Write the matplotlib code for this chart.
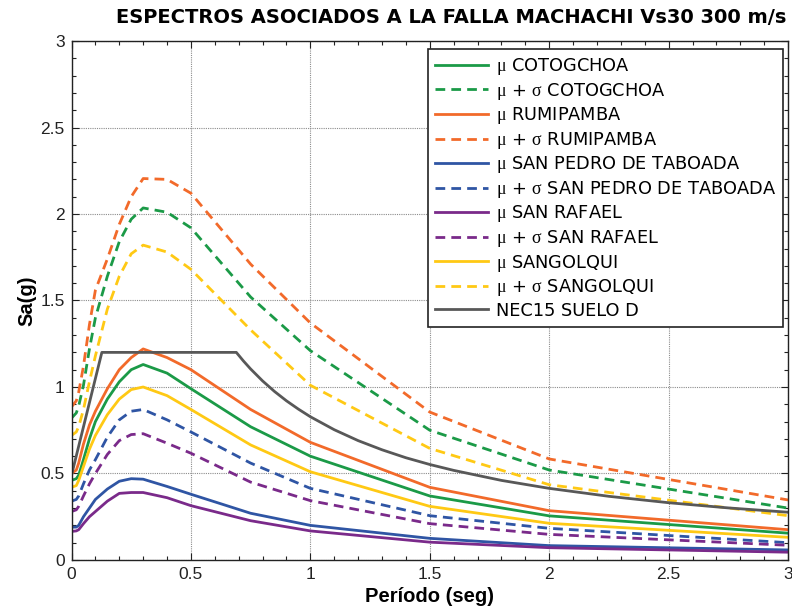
import matplotlib
matplotlib.use("Agg")
import matplotlib.pyplot as plt
from matplotlib.ticker import MultipleLocator

plt.rcParams['font.family'] = ['Liberation Sans', 'DejaVu Sans']
plt.rcParams['mathtext.fontset'] = 'custom'
plt.rcParams['mathtext.rm'] = 'Liberation Serif'
plt.rcParams['mathtext.it'] = 'Liberation Serif:italic'

# Spectral periods (s)
periods = [0, 0.02, 0.03, 0.05, 0.075, 0.1, 0.15, 0.2, 0.25, 0.3, 0.4, 0.5,
           0.75, 1.0, 1.5, 2.0, 3.0]

# Mean (mu) and mean + sigma spectra, Sa in g
cotogchoa_mu = [0.46, 0.47, 0.49, 0.58, 0.70, 0.80, 0.93, 1.03, 1.10, 1.13, 1.08,
                0.99, 0.77, 0.60, 0.37, 0.255, 0.155]
cotogchoa_ms = [0.82, 0.85, 0.89, 1.01, 1.22, 1.40, 1.64, 1.84, 1.97, 2.035, 2.01,
                1.92, 1.52, 1.21, 0.75, 0.52, 0.30]
rumipamba_mu = [0.50, 0.52, 0.56, 0.67, 0.78, 0.86, 0.99, 1.10, 1.17, 1.22, 1.17,
                1.10, 0.87, 0.68, 0.42, 0.285, 0.175]
rumipamba_ms = [0.885, 0.92, 0.97, 1.12, 1.36, 1.56, 1.74, 1.94, 2.10, 2.205, 2.20,
                2.12, 1.71, 1.37, 0.855, 0.584, 0.347]
sanpedro_mu = [0.19, 0.19, 0.20, 0.25, 0.30, 0.35, 0.41, 0.455, 0.47, 0.467, 0.425,
               0.38, 0.27, 0.20, 0.125, 0.083, 0.058]
sanpedro_ms = [0.34, 0.35, 0.37, 0.44, 0.52, 0.58, 0.71, 0.81, 0.86, 0.87, 0.81,
               0.74, 0.56, 0.414, 0.256, 0.183, 0.10]
sanrafael_mu = [0.165, 0.168, 0.175, 0.21, 0.25, 0.28, 0.34, 0.385, 0.39, 0.39, 0.36,
                0.314, 0.227, 0.168, 0.103, 0.071, 0.045]
sanrafael_ms = [0.28, 0.29, 0.31, 0.37, 0.44, 0.50, 0.61, 0.69, 0.725, 0.73, 0.675,
                0.617, 0.45, 0.343, 0.21, 0.148, 0.085]
sangolqui_mu = [0.42, 0.43, 0.46, 0.54, 0.64, 0.72, 0.84, 0.93, 0.985, 1.00, 0.95,
                0.87, 0.665, 0.51, 0.31, 0.212, 0.131]
sangolqui_ms = [0.72, 0.74, 0.77, 0.87, 1.03, 1.18, 1.45, 1.64, 1.77, 1.82, 1.78,
                1.68, 1.33, 1.01, 0.645, 0.435, 0.256]

# NEC-15 design spectrum, soil type D
nec_periods = [0, 0.127, 0.69, 0.72, 0.75, 0.8, 0.85, 0.9, 0.95, 1.0, 1.1, 1.2,
               1.3, 1.4, 1.5, 1.6, 1.8, 2.0, 2.25, 2.5, 2.75, 3.0]
nec_sa = [0.49, 1.20, 1.20, 1.150, 1.104, 1.035, 0.974, 0.920, 0.872, 0.828, 0.753,
          0.690, 0.637, 0.591, 0.552, 0.518, 0.460, 0.414, 0.368, 0.331, 0.301, 0.276]

GREEN = '#1b9a47'
ORANGE = '#f26a2a'
BLUE = '#2f55a4'
PURPLE = '#7a2a8a'
YELLOW = '#ffc914'
GRAY = '#585858'

MU = r'$\mathrm{\mu}$'
MUS = r'$\mathrm{\mu}$ + $\mathrm{\sigma}$'

series = [
    (cotogchoa_mu, GREEN, '-', MU + ' COTOGCHOA'),
    (cotogchoa_ms, GREEN, '--', MUS + ' COTOGCHOA'),
    (rumipamba_mu, ORANGE, '-', MU + ' RUMIPAMBA'),
    (rumipamba_ms, ORANGE, '--', MUS + ' RUMIPAMBA'),
    (sanpedro_mu, BLUE, '-', MU + ' SAN PEDRO DE TABOADA'),
    (sanpedro_ms, BLUE, '--', MUS + ' SAN PEDRO DE TABOADA'),
    (sanrafael_mu, PURPLE, '-', MU + ' SAN RAFAEL'),
    (sanrafael_ms, PURPLE, '--', MUS + ' SAN RAFAEL'),
    (sangolqui_mu, YELLOW, '-', MU + ' SANGOLQUI'),
    (sangolqui_ms, YELLOW, '--', MUS + ' SANGOLQUI'),
]

fig = plt.figure(figsize=(7.92, 6.12), dpi=100)
ax = fig.add_axes([0.0903, 0.085, 0.9047, 0.848])

for vals, col, ls, lab in series:
    if ls == '--':
        ax.plot(periods, vals, color=col, lw=2.0, ls=(0, (3.5, 2.2)), label=lab)
    else:
        ax.plot(periods, vals, color=col, lw=2.0, ls='-', label=lab)
ax.plot(nec_periods, nec_sa, color=GRAY, lw=2.0, label='NEC15 SUELO D')

ax.set_xlim(0, 3)
ax.set_ylim(0, 3)
ax.xaxis.set_minor_locator(MultipleLocator(0.1))
ax.yaxis.set_minor_locator(MultipleLocator(0.1))
ax.set_xticks([0, 0.5, 1, 1.5, 2, 2.5, 3])
ax.set_xticklabels(['0', '0.5', '1', '1.5', '2', '2.5', '3'])
ax.set_yticks([0, 0.5, 1, 1.5, 2, 2.5, 3])
ax.set_yticklabels(['0', '0.5', '1', '1.5', '2', '2.5', '3'])
ax.tick_params(which='both', direction='in', top=True, right=True,
               labelsize=12.5, colors='#222222')
ax.tick_params(which='major', length=5, width=0.8, pad=5)
ax.tick_params(which='minor', length=3, width=0.8)
ax.grid(True, which='major', color='#8c8c8c', ls=(0, (1, 1)), lw=0.8)
for sp in ax.spines.values():
    sp.set_color('#222222')
    sp.set_linewidth(1.0)

ax.set_xlabel('Período (seg)', fontsize=14.5, fontweight='bold', labelpad=4)
ax.set_ylabel('Sa(g)', fontsize=14.5, fontweight='bold', labelpad=3)
fig.text(0.5695, 0.972, 'ESPECTROS ASOCIADOS A LA FALLA MACHACHI Vs30 300 m/s',
         ha='center', va='center', fontsize=14, fontweight='bold',
         family=['DejaVu Sans'])

leg = ax.legend(loc='upper right', bbox_to_anchor=(0.993, 0.9846),
                borderaxespad=0, prop={'family': ['DejaVu Sans'], 'size': 12.8},
                frameon=True, fancybox=False, edgecolor='#222222',
                handlelength=2.95, labelspacing=0.2, borderpad=0.4,
                handletextpad=0.45)
leg.get_frame().set_linewidth(1.2)
leg.get_frame().set_alpha(1)

fig.savefig('out.png', dpi=100)
